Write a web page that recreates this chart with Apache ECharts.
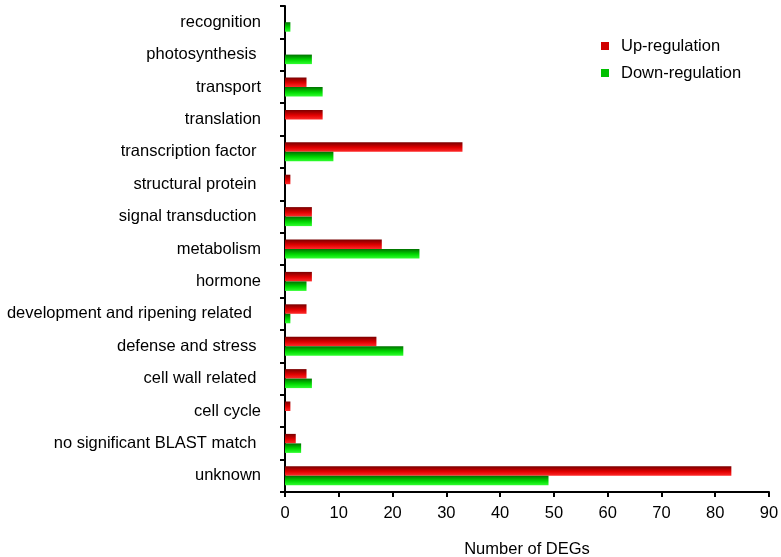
<!DOCTYPE html>
<html><head><meta charset="utf-8">
<script src="https://cdn.jsdelivr.net/npm/echarts@6/dist/echarts.min.js"></script>
<style>html,body{margin:0;padding:0;background:#fff}#c{width:781px;height:557px}</style>
</head><body><div id="c"></div>
<script>
const categories = ["unknown","no significant BLAST match ","cell cycle","cell wall related ","defense and stress ","development and ripening related  ","hormone","metabolism","signal transduction ","structural protein ","transcription factor ","translation","transport","photosynthesis ","recognition"];
const upValues = [83,2,1,4,17,4,5,18,5,1,33,7,4,0,0];
const downValues = [49,3,0,5,22,1,4,25,5,0,9,0,7,5,1];
const xTicks = {min:0, max:90, interval:10};

const chart = echarts.init(document.getElementById('c'), null, {renderer:'canvas'});
const font = 'Liberation Sans, Arial, sans-serif';
const fs = 16.5;
const redGrad = new echarts.graphic.LinearGradient(0,0,0,1,[{offset:0,color:'#780000'},{offset:0.55,color:'#e00000'},{offset:1,color:'#ff2a2a'}]);
const greenGrad = new echarts.graphic.LinearGradient(0,0,0,1,[{offset:0,color:'#007000'},{offset:0.55,color:'#00d800'},{offset:1,color:'#30ff30'}]);
chart.setOption({
  animation:false,
  backgroundColor:'#fff',
  grid:{left:285,right:12,top:6,bottom:65,containLabel:false,outerBoundsMode:'none'},
  legend:{
    data:[{name:'Up-regulation',itemStyle:{color:'#d00000'}},{name:'Down-regulation',itemStyle:{color:'#00c000'}}],
    orient:'vertical', left:596, top:32, icon:'rect', itemWidth:8, itemHeight:8, itemGap:9,
    textStyle:{fontFamily:font,fontSize:fs,color:'#000',lineHeight:18,padding:[0,0,0,7]}
  },
  xAxis:{
    type:'value', min:xTicks.min, max:xTicks.max, interval:xTicks.interval,
    name:'Number of DEGs', nameLocation:'middle', nameGap:49,
    nameTextStyle:{fontFamily:font,fontSize:fs,color:'#000'},
    axisLine:{show:true,lineStyle:{color:'#000',width:2}},
    axisTick:{show:true,length:5,lineStyle:{color:'#000',width:2}},
    axisLabel:{fontFamily:font,fontSize:fs,color:'#000',margin:13},
    splitLine:{show:false}
  },
  yAxis:{
    type:'category', data:categories,
    axisLine:{show:true,lineStyle:{color:'#000',width:2}},
    axisTick:{show:true,length:5,lineStyle:{color:'#000',width:2}},
    axisLabel:{fontFamily:font,fontSize:fs,color:'#000',margin:24,padding:[0,0,15,0]}
  },
  series:[
    {name:'Up-regulation',type:'bar',data:upValues,barWidth:9.5,barGap:'0%',itemStyle:{color:redGrad}},
    {name:'Down-regulation',type:'bar',data:downValues,barWidth:9.5,barGap:'0%',itemStyle:{color:greenGrad}}
  ]
});
</script></body></html>
